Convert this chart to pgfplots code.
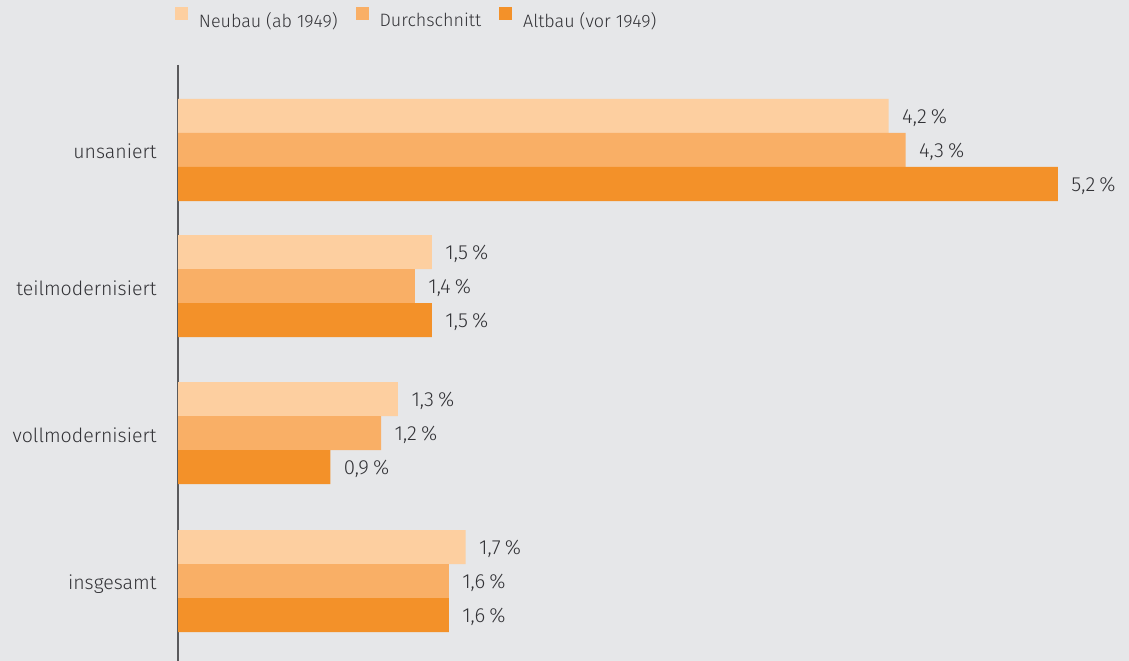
\documentclass[border=0pt]{standalone}
\usepackage{pgfplots}
\pgfplotsset{compat=1.18}
\usepackage{fontspec}
\setmainfont{Fira Sans}[UprightFont=* Light]
\definecolor{bg}{HTML}{E6E7E9}
\definecolor{cA}{HTML}{FDCFA0}
\definecolor{cB}{HTML}{F9AF66}
\definecolor{cC}{HTML}{F39129}
\definecolor{axisgray}{HTML}{5A5A5C}
\definecolor{txt}{HTML}{333337}
\newcommand\fs{\fontsize{19.6}{22}\selectfont}
\newcommand\fv{\fontsize{20.5}{22}\selectfont}
\newcommand\fl{\fontsize{18}{21}\selectfont}
\begin{document}
\begin{tikzpicture}
\fill[bg] (0,0) rectangle (1129bp,661bp);
\begin{axis}[
  at={(178bp,0bp)}, anchor=south west,
  scale only axis, width=951bp, height=596bp,
  xmin=0, xmax=5.62, ymin=65, ymax=661, y dir=reverse,
  xbar, bar width=34, bar shift=0,
  axis x line=none, axis y line=left,
  y axis line style={-, draw=axisgray, line width=2.5bp},
  ytick={151,288,435,584},
  yticklabels={unsaniert,teilmodernisiert,vollmodernisiert,insgesamt},
  major tick length=0pt,
  yticklabel style={font=\fs, text=txt, xshift=-18bp},
  point meta=x,
  /pgf/number format/assume math mode=true,
  nodes near coords={\pgfmathprintnumber[fixed,fixed zerofill,precision=1,use comma]{\pgfplotspointmeta}\hspace{0.2em}\%},
  nodes near coords style={font=\fv, text=txt, anchor=west, xshift=10bp, yshift=-2bp},
  clip=false,
  legend style={at={(axis description cs:-0.0032,1.0789)}, anchor=west,
    font=\fl, text=txt, draw=none, fill=none, inner sep=0pt, outer sep=0pt,
    /tikz/every odd column/.append style={column sep=11bp},
    /tikz/every even column/.append style={column sep=18bp},
    nodes={inner sep=0pt}},
  legend columns=3,
  legend image code/.code={\fill[#1] (0bp,0bp) rectangle (13bp,13bp);},
]
\addplot[draw=none, fill=cA] coordinates {(4.2,116) (1.5,252) (1.3,399) (1.7,547)};
\addplot[draw=none, fill=cB] coordinates {(4.3,150) (1.4,286) (1.2,433) (1.6,581)};
\addplot[draw=none, fill=cC] coordinates {(5.2,184) (1.5,320) (0.9,467) (1.6,615)};
\legend{Neubau (ab 1949), Durchschnitt, Altbau (vor 1949)}
\end{axis}
\pgfresetboundingbox
\path (0,0) rectangle (1129bp,661bp);
\end{tikzpicture}
\end{document}
